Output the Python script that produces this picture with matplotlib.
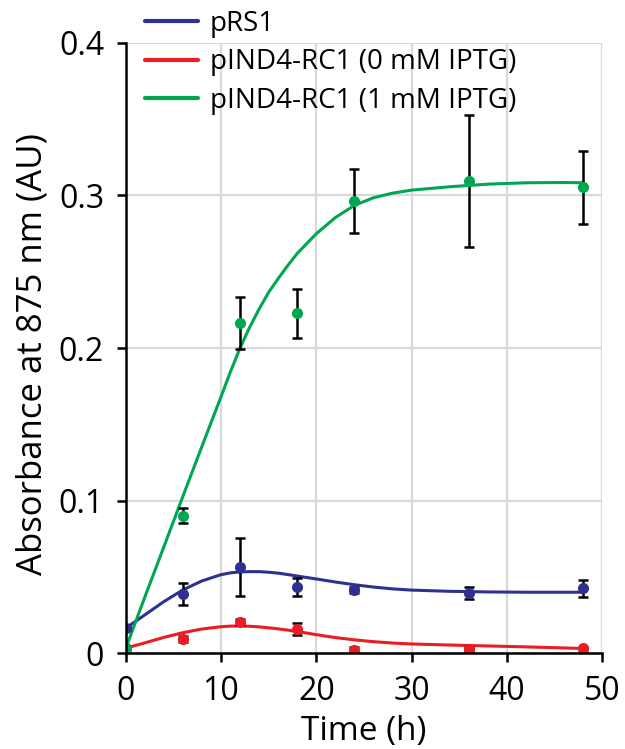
import numpy as np
import matplotlib.pyplot as plt

plt.rcParams['font.family'] = ['Open Sans', 'DejaVu Sans']

# measured points
t = [0, 6, 12, 18, 24, 36, 48]
prs1 = [0.0164, 0.0388, 0.0567, 0.0436, 0.0415, 0.0393, 0.0426]
prs1_err = [0.001, 0.007, 0.019, 0.006, 0.002, 0.004, 0.0055]
rc1_0 = [0.0033, 0.0094, 0.0207, 0.0159, 0.0022, 0.0028, 0.0033]
rc1_0_err = [0.001, 0.002, 0.002, 0.004, 0.002, 0.001, 0.001]
rc1_1 = [0.0037, 0.0901, 0.2162, 0.2227, 0.2963, 0.3094, 0.3053]
rc1_1_err = [0.001, 0.005, 0.017, 0.016, 0.021, 0.043, 0.024]

# fitted curves
tc = [0, 2, 4, 6, 8, 10, 11, 12, 13, 14, 15, 16, 17, 18, 20, 22, 24, 26, 28, 30,
      34, 38, 42, 46, 48]
prs1_fit = [0.0164, 0.0251, 0.0338, 0.0415, 0.0474, 0.0515, 0.0527, 0.0533, 0.0535,
            0.0535, 0.0531, 0.0525, 0.0516, 0.0506, 0.0487, 0.0467, 0.0449, 0.0434,
            0.0422, 0.0414, 0.0406, 0.0402, 0.0400, 0.0400, 0.0400]
rc1_0_fit = [0.0033, 0.0068, 0.0104, 0.0135, 0.0159, 0.0174, 0.0178, 0.0179, 0.0177,
             0.0173, 0.0167, 0.0160, 0.0152, 0.0143, 0.0122, 0.0103, 0.0088, 0.0076,
             0.0067, 0.0061, 0.0054, 0.0048, 0.0042, 0.0035, 0.0031]
rc1_1_fit = [0.0030, 0.0366, 0.0696, 0.1027, 0.1355, 0.1680, 0.1845, 0.2000, 0.2135,
             0.2255, 0.2365, 0.2455, 0.2540, 0.2620, 0.2749, 0.2855, 0.2935, 0.2985,
             0.3015, 0.3035, 0.3057, 0.3074, 0.3083, 0.3085, 0.3083]

labels = ['pRS1', 'pIND4-RC1 (0 mM IPTG)', 'pIND4-RC1 (1 mM IPTG)']
colors = ['#2e3192', '#ed1c24', '#00a651']

fig = plt.figure(figsize=(6.25, 7.49), dpi=100)
ax = fig.add_axes([0.201, 0.1278, 0.7626, 0.815])

series = [(prs1, prs1_err, prs1_fit), (rc1_0, rc1_0_err, rc1_0_fit), (rc1_1, rc1_1_err, rc1_1_fit)]
for (y, e, f), c, lab in zip(series, colors, labels):
    ax.plot(tc, f, color=c, lw=2.2, label=lab, zorder=3)
    ax.errorbar(t, y, yerr=e, fmt='none', ecolor='black', elinewidth=1.8,
                capsize=3.4, capthick=1.8, zorder=4)
    ax.plot(t, y, 'o', color=c, ms=8, mec='none', zorder=5)

ax.set_xlim(0, 50)
ax.set_ylim(0, 0.4)
ax.set_xticks([0, 10, 20, 30, 40, 50])
ax.set_yticks([0, 0.1, 0.2, 0.3, 0.4])
ax.set_yticklabels(['0', '0.1', '0.2', '0.3', '0.4'])
ax.grid(True, color='#d9d9d9', lw=1.6)
ax.set_axisbelow(True)
for s in ['top', 'right']:
    ax.spines[s].set_visible(False)
for s in ['left', 'bottom']:
    ax.spines[s].set_linewidth(1.8)
    ax.spines[s].set_zorder(6)
ax.tick_params(direction='out', length=6.5, width=1.8, labelsize=23, pad=9)

ax.set_xlabel('Time (h)', fontsize=24, labelpad=5)
ax.set_ylabel('Absorbance at 875 nm (AU)', fontsize=25)
ax.yaxis.set_label_coords(-0.159, 0.49)

leg = ax.legend(loc='upper left', bbox_to_anchor=(0.0405, 1.054), frameon=False,
                fontsize=20, handlelength=1.9, handletextpad=0.43, labelspacing=0.38,
                borderpad=0, borderaxespad=0)
for h in leg.legend_handles:
    h.set_linewidth(3)
    h.set_solid_capstyle('round')

fig.savefig('out.png', dpi=100)
